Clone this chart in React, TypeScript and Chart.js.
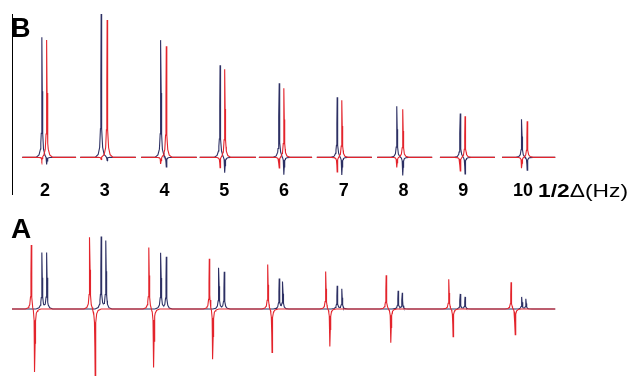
import { useEffect, useRef } from "react";
import { Chart, registerables } from "chart.js";

Chart.register(...registerables);

// ---------- data (x in Hz-axis units, intensities in arbitrary units) ----------
const deltaHz = [2, 3, 4, 5, 6, 7, 8, 9, 10];
const axisTitleBold = "1/2";
const axisTitleRest = "Δ(Hz)";

// Panel B: each spectrum window
const bSegStart = [1.62, 2.59, 3.61, 4.59, 5.58, 6.55, 7.56, 8.61, 9.65];
const bSegEnd = [2.52, 3.52, 4.54, 5.53, 6.47, 7.47, 8.48, 9.53, 10.54];
const bBluePos = [1.95, 2.94, 3.94, 4.93, 5.92, 6.89, 7.89, 8.95, 9.98];
const bRedPos = [2.03, 3.04, 4.03, 5.01, 6.0, 6.97, 7.99, 9.03, 10.07];
const bBlueHeight = [120, 143, 117, 92, 74, 60, 51, 44, 38];
const bRedHeight = [117, 137, 111, 88, 69, 57, 48, 41, 36];
const bBlueDip = [8, 3, 10, 16, 18, 18, 18, 17, 13];
const bRedDip = [4, 2, 7, 11, 11, 15, 10, 14, 11];

// Panel A
const aStart = 1.448;
const aEnd = 10.54;
const aRedPos = [1.77, 2.75, 3.74, 4.75, 5.73, 6.7, 7.71, 8.76, 9.8];
const aRedDipPos = [1.83, 2.84, 3.82, 4.81, 5.8, 6.77, 7.79, 8.83, 9.87];
const aRedHeight = [65, 72, 62, 51, 45, 38, 34, 30, 27];
const aRedDip = [64, 69, 59, 51, 44, 38, 34, 28, 26];
const aBlue1Pos = [1.95, 2.94, 3.94, 4.91, 5.92, 6.89, 7.91, 8.95, 9.98];
const aBlue2Pos = [2.03, 3.02, 4.03, 5.0, 5.98, 6.97, 7.98, 9.03, 10.05];
const aBlue1Height = [56, 72, 56, 41, 30, 23, 18, 15, 12];
const aBlue2Height = [56, 68, 52, 37, 27, 20, 16, 12, 10];

// ---------- line shape (fixed narrow line profile) ----------
const PROFILE_DX = [-0.1, -0.05, -0.025, -0.012, -0.005, 0, 0.005, 0.012, 0.025, 0.05, 0.1];
const PROFILE_F = [0, 0.02, 0.07, 0.2, 0.55, 1, 0.55, 0.2, 0.07, 0.02, 0];

const NAVY = "#2d3064";
const RED = "#e3242c";
const FONT = '"Liberation Sans", Arial, sans-serif';

type Comp = { pos: number; amp: number };

function profileAt(dx: number) {
  const n = PROFILE_DX.length;
  if (dx <= PROFILE_DX[0] || dx >= PROFILE_DX[n - 1]) return 0;
  for (let j = 1; j < n; j++) {
    if (dx <= PROFILE_DX[j]) {
      const t = (dx - PROFILE_DX[j - 1]) / (PROFILE_DX[j] - PROFILE_DX[j - 1]);
      return PROFILE_F[j - 1] + t * (PROFILE_F[j] - PROFILE_F[j - 1]);
    }
  }
  return 0;
}

function trace(comps: Comp[], start: number, end: number) {
  const xs = new Set<number>([start, end]);
  comps.forEach((c) => PROFILE_DX.forEach((d) => xs.add(+(c.pos + d).toFixed(4))));
  return [...xs]
    .filter((x) => x >= start && x <= end)
    .sort((a, b) => a - b)
    .map((x) => ({ x, y: comps.reduce((s, c) => s + c.amp * profileAt(x - c.pos), 0) }));
}

function bSeries(color: "blue" | "red") {
  const pts: { x: number; y: number | null }[] = [];
  deltaHz.forEach((_, i) => {
    const comps =
      color === "blue"
        ? [
            { pos: bBluePos[i], amp: bBlueHeight[i] },
            { pos: bRedPos[i], amp: -bBlueDip[i] },
          ]
        : [
            { pos: bBluePos[i], amp: -bRedDip[i] },
            { pos: bRedPos[i], amp: bRedHeight[i] },
          ];
    if (i > 0) pts.push({ x: (bSegEnd[i - 1] + bSegStart[i]) / 2, y: null });
    pts.push(...trace(comps, bSegStart[i], bSegEnd[i]));
  });
  return pts;
}

function aSeries(color: "blue" | "red") {
  const comps: Comp[] = [];
  deltaHz.forEach((_, i) => {
    if (color === "red") {
      comps.push({ pos: aRedPos[i], amp: aRedHeight[i] }, { pos: aRedDipPos[i], amp: -aRedDip[i] });
    } else {
      comps.push({ pos: aBlue1Pos[i], amp: aBlue1Height[i] }, { pos: aBlue2Pos[i], amp: aBlue2Height[i] });
    }
  });
  return trace(comps, aStart, aEnd);
}

const X_MIN = 1.448;
const X_MAX = 11.858;

const dsStyle = {
  borderWidth: 1.1,
  pointRadius: 0,
  tension: 0,
  fill: false,
  spanGaps: false,
};

const panelBDecor = {
  id: "panelBDecor",
  afterDraw(chart: any) {
    const { ctx, chartArea } = chart;
    ctx.save();
    ctx.strokeStyle = "#000";
    ctx.lineWidth = 1;
    ctx.beginPath();
    ctx.moveTo(chartArea.left + 0.5, 14);
    ctx.lineTo(chartArea.left + 0.5, 195);
    ctx.stroke();
    ctx.fillStyle = "#000";
    ctx.textBaseline = "alphabetic";
    ctx.font = `bold 27px ${FONT}`;
    ctx.fillText("B", chartArea.left - 1, 37);
    // axis title, slightly widened like the original artwork
    ctx.translate(538, 197);
    ctx.scale(1.2, 1);
    ctx.font = `bold 19px ${FONT}`;
    ctx.fillText(axisTitleBold, 0, 0);
    const w = ctx.measureText(axisTitleBold).width;
    ctx.font = `19px ${FONT}`;
    ctx.fillText(axisTitleRest, w, 0);
    ctx.restore();
  },
};

const panelADecor = {
  id: "panelADecor",
  afterDraw(chart: any) {
    const { ctx, chartArea } = chart;
    ctx.save();
    ctx.fillStyle = "#000";
    ctx.textBaseline = "alphabetic";
    ctx.font = `bold 28px ${FONT}`;
    ctx.fillText("A", chartArea.left - 1, 33);
    ctx.restore();
  },
};

export default function App() {
  const refB = useRef<HTMLCanvasElement>(null);
  const refA = useRef<HTMLCanvasElement>(null);

  useEffect(() => {
    const chartB = new Chart(refB.current!, {
      type: "line",
      data: {
        datasets: [
          { ...dsStyle, data: bSeries("red"), borderColor: RED },
          { ...dsStyle, data: bSeries("blue"), borderColor: NAVY },
        ],
      },
      options: {
        responsive: false,
        animation: false,
        events: [],
        layout: { padding: { left: 12, right: 0, top: 0, bottom: 0 } },
        plugins: { legend: { display: false }, tooltip: { enabled: false } },
        scales: {
          x: {
            type: "linear",
            min: X_MIN,
            max: X_MAX,
            grid: { display: false, drawTicks: false },
            border: { display: false },
            afterBuildTicks: (axis: any) => {
              axis.ticks = deltaHz.map((v) => ({ value: v }));
            },
            ticks: {
              autoSkip: false,
              maxRotation: 0,
              padding: 3,
              color: "#000",
              font: { family: FONT, size: 18, weight: "bold" },
            },
          },
          y: { display: false, min: -20, max: 157 },
        },
      },
      plugins: [panelBDecor],
    } as any);

    const chartA = new Chart(refA.current!, {
      type: "line",
      data: {
        datasets: [
          { ...dsStyle, data: aSeries("red"), borderColor: RED },
          { ...dsStyle, data: aSeries("blue"), borderColor: NAVY },
        ],
      },
      options: {
        responsive: false,
        animation: false,
        events: [],
        layout: { padding: { left: 12, right: 0, top: 0, bottom: 0 } },
        plugins: { legend: { display: false }, tooltip: { enabled: false } },
        scales: {
          x: { type: "linear", display: false, min: X_MIN, max: X_MAX },
          y: { display: false, min: -67, max: 104 },
        },
      },
      plugins: [panelADecor],
    } as any);

    return () => {
      chartB.destroy();
      chartA.destroy();
    };
  }, []);

  return (
    <div style={{ position: "absolute", left: 0, top: 0, width: 634, height: 376, background: "#fff" }}>
      <canvas ref={refB} width={634} height={205} style={{ display: "block" }} />
      <canvas ref={refA} width={634} height={171} style={{ display: "block" }} />
    </div>
  );
}
